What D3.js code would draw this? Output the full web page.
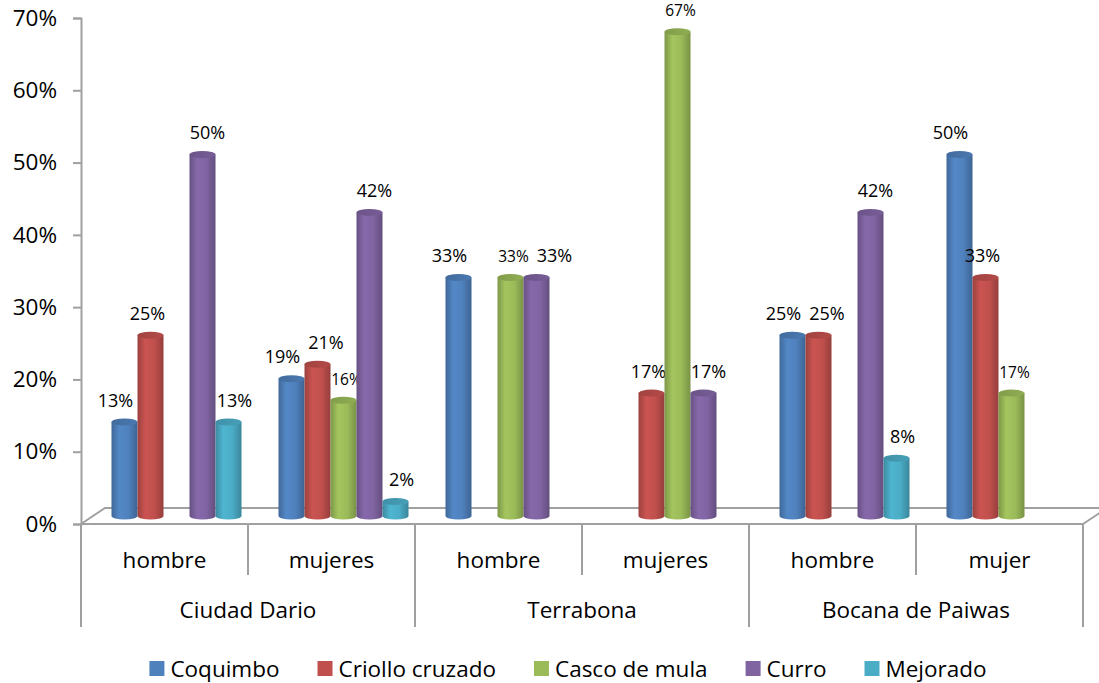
<!DOCTYPE html>
<html>
<head>
<meta charset="utf-8">
<script src="https://cdn.jsdelivr.net/npm/d3@7"></script>
<style>
  body { margin: 0; background: #fff; }
  text { font-family: "Open Sans", Lato, sans-serif; fill: #000; }
</style>
</head>
<body>
<div class="chart"></div>
<script>
// values (null = no bar)
const groups = ["Ciudad Dario", "Terrabona", "Bocana de Paiwas"];
const subLabels = ["hombre", "mujeres", "hombre", "mujeres", "hombre", "mujer"];
const seriesNames = ["Coquimbo", "Criollo cruzado", "Casco de mula", "Curro", "Mejorado"];
const coquimbo = [0.13, 0.19, 0.33, null, 0.25, 0.50];
const criollo = [0.25, 0.21, null, 0.17, 0.25, 0.33];
const casco = [null, 0.16, 0.33, 0.67, null, 0.17];
const curro = [0.50, 0.42, 0.33, 0.17, 0.42, null];
const mejorado = [0.13, 0.02, null, null, 0.08, null];
const yTicks = [0, 0.1, 0.2, 0.3, 0.4, 0.5, 0.6, 0.7];

const colors = ["#4F81BD", "#C0504D", "#9BBB59", "#8064A2", "#4BACC6"];
const labelShift = [-9, -3, 3, 5, 6];

const seriesValues = [coquimbo, criollo, casco, curro, mejorado];

const width = 1099, height = 683;
const plotLeft = 81, plotRight = 1083, plotTop = 18, plotBottom = 524;
const dx = 12, dy = -8;   // half depth of the 3d floor
const fontSize = 22.5;

const svg = d3.select(".chart").append("svg")
    .attr("width", width)
    .attr("height", height);

const defs = svg.append("defs");
colors.forEach((c, i) => {
    const g = defs.append("linearGradient").attr("id", "grad" + i)
        .attr("x1", "0%").attr("x2", "100%").attr("y1", "0%").attr("y2", "0%");
    g.append("stop").attr("offset", "0%").attr("stop-color", d3.color(c).darker(0.6));
    g.append("stop").attr("offset", "30%").attr("stop-color", d3.color(c).brighter(0.15));
    g.append("stop").attr("offset", "65%").attr("stop-color", c);
    g.append("stop").attr("offset", "100%").attr("stop-color", d3.color(c).darker(0.7));
    const t = defs.append("linearGradient").attr("id", "top" + i)
        .attr("x1", "0%").attr("x2", "100%").attr("y1", "0%").attr("y2", "0%");
    t.append("stop").attr("offset", "0%").attr("stop-color", d3.color(c).darker(0.5));
    t.append("stop").attr("offset", "100%").attr("stop-color", d3.color(c).darker(0.2));
});

var x0 = d3.scaleBand()
    .domain(d3.range(subLabels.length))
    .range([plotLeft, plotRight]);

var x1 = d3.scaleBand()
    .domain(seriesNames)
    .range([0, 130]);

var y = d3.scaleLinear()
    .domain([0, 0.7])
    .range([plotBottom, plotTop]);

const groupPad = (x0.bandwidth() - 130) / 2;

// floor
const lineColor = "#a0a0a0";
svg.append("path")
    .attr("d", "M" + plotLeft + "," + plotBottom + "L" + (plotLeft + 2 * dx) + "," + (plotBottom + 2 * dy) +
        "L" + (width + 10) + "," + (plotBottom + 2 * dy))
    .attr("fill", "none").attr("stroke", lineColor).attr("stroke-width", 2);
svg.append("path")
    .attr("d", "M" + plotRight + "," + plotBottom + "L" + (plotRight + 2 * dx) + "," + (plotBottom + 2 * dy))
    .attr("fill", "none").attr("stroke", lineColor).attr("stroke-width", 2);

// y axis
var yAxis = svg.append("g")
    .attr("transform", "translate(" + plotLeft + ",0)")
    .call(d3.axisLeft(y).tickValues(yTicks).tickFormat(d3.format(".0%")).tickSize(8).tickPadding(16));
yAxis.select(".domain").attr("stroke", lineColor).attr("stroke-width", 2);
yAxis.selectAll(".tick line").attr("stroke", lineColor).attr("stroke-width", 2);
yAxis.selectAll(".tick text").attr("font-size", fontSize).attr("font-family", "'Open Sans', sans-serif").attr("fill", "#000");

// x axis lines
svg.append("line")
    .attr("x1", plotLeft).attr("x2", plotRight).attr("y1", plotBottom).attr("y2", plotBottom)
    .attr("stroke", lineColor).attr("stroke-width", 2);
const bounds = d3.range(subLabels.length + 1);
svg.append("g").selectAll("line")
    .data(bounds)
    .enter()
    .append("line")
    .attr("x1", d => plotLeft + d * x0.step())
    .attr("x2", d => plotLeft + d * x0.step())
    .attr("y1", plotBottom)
    .attr("y2", d => d % 2 === 0 ? 627 : 575)
    .attr("stroke", lineColor)
    .attr("stroke-width", 2);

svg.append("g").selectAll("text")
    .data(subLabels)
    .enter()
    .append("text")
    .attr("x", (d, i) => x0(i) + x0.bandwidth() / 2)
    .attr("y", 560)
    .attr("dy", "0.35em")
    .attr("text-anchor", "middle")
    .attr("font-size", fontSize)
    .text(d => d);

svg.append("g").selectAll("text")
    .data(groups)
    .enter()
    .append("text")
    .attr("x", (d, i) => x0(i * 2) + x0.bandwidth())
    .attr("y", 610)
    .attr("dy", "0.35em")
    .attr("text-anchor", "middle")
    .attr("font-size", fontSize)
    .text(d => d);

// bars as cylinders
let bars = [];
seriesValues.forEach((vals, s) => {
    vals.forEach((v, i) => {
        if (v !== null) bars.push({ s: s, i: i, v: v });
    });
});
bars.sort((a, b) => a.i - b.i || a.s - b.s);

const bw = x1.bandwidth();
const rx = bw / 2, ry = 3.5;

const barG = svg.append("g")
    .selectAll("g")
    .data(bars)
    .enter()
    .append("g");

let labels = [];
barG.each(function(d) {
    const g = d3.select(this);
    const bx = x0(d.i) + groupPad + dx + x1(seriesNames[d.s]);
    const yt = y(d.v) + dy;
    const yb = y(0) + dy;
    g.append("path")
        .attr("d", "M" + bx + "," + yt + "L" + bx + "," + yb +
            "A" + rx + "," + ry + " 0 0 0 " + (bx + bw) + "," + yb +
            "L" + (bx + bw) + "," + yt + "Z")
        .attr("fill", "url(#grad" + d.s + ")");
    g.append("ellipse")
        .attr("cx", bx + rx).attr("cy", yt)
        .attr("rx", rx).attr("ry", ry)
        .attr("fill", "url(#top" + d.s + ")");
    const t = g.append("text")
        .attr("x", bx + rx + labelShift[d.s])
        .attr("y", yt - ry - 12)
        .attr("text-anchor", "middle")
        .attr("font-size", d.s === 2 ? 15.5 : 18)
        .text(d3.format(".0%")(d.v));
    labels.push({ node: t, i: d.i, x: bx + rx + labelShift[d.s], y: yt - ry - 12,
        w: t.node().getComputedTextLength() });
});

// push overlapping labels to the right, like the original
for (let k = 1; k < labels.length; k++) {
    const a = labels[k - 1], b = labels[k];
    if (a.i !== b.i || Math.abs(a.y - b.y) > 18) continue;
    const minX = a.x + a.w / 2 + 8 + b.w / 2;
    if (b.x < minX) {
        b.x = minX;
        b.node.attr("x", b.x);
    }
}

// legend
const legend = svg.append("g");
let lx = 0;
const items = legend.selectAll("g")
    .data(seriesNames)
    .enter()
    .append("g");
items.append("rect")
    .attr("y", -8).attr("width", 15).attr("height", 15)
    .attr("fill", (d, i) => colors[i]);
items.append("text")
    .attr("x", 21)
    .attr("dy", "0.35em")
    .attr("font-size", fontSize)
    .text(d => d);
items.each(function() {
    d3.select(this).attr("transform", "translate(" + lx + ",0)");
    lx += 21 + d3.select(this).select("text").node().getComputedTextLength() + 38;
});
lx -= 38;
legend.attr("transform", "translate(" + (568 - lx / 2) + ",669)");
</script>
</body>
</html>
